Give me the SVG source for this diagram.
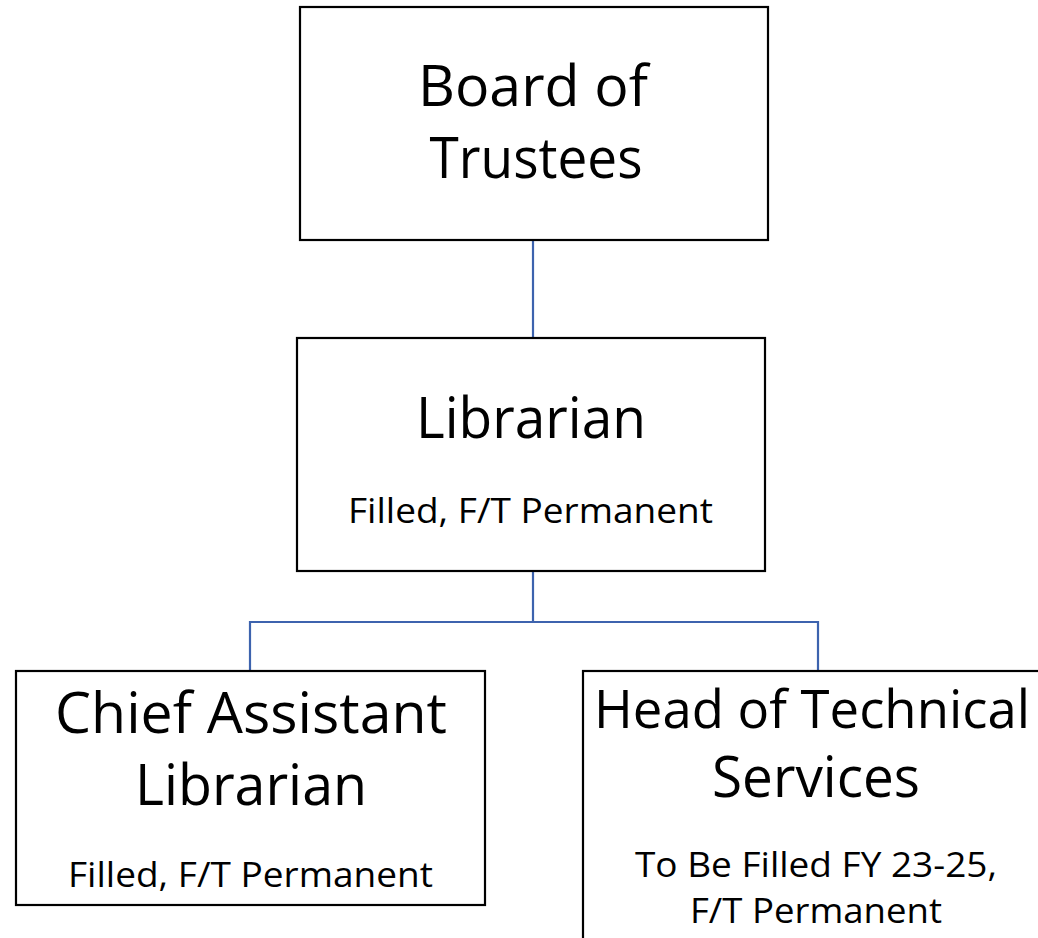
<svg xmlns="http://www.w3.org/2000/svg" width="1038" height="938" viewBox="0 0 1038 938">
<style>
.box{fill:#fff;stroke:#000;stroke-width:2.2}
.conn{fill:none;stroke:#3D63AE;stroke-width:2.2}
.big{font-family:"Open Sans","Noto Sans",sans-serif;font-size:56px;fill:#000;text-anchor:middle}
.small{font-family:"Open Sans","Noto Sans",sans-serif;font-size:34px;fill:#000;text-anchor:middle}
</style>
<rect width="1038" height="938" fill="#fff"/>
<g id="connectors">
<path class="conn" d="M533 240V338"/>
<path class="conn" d="M533 571V622H250V671"/>
<path class="conn" d="M533 622H818V671"/>
</g>
<g id="board">
<rect class="box" x="300" y="7" width="468" height="233"/>
<text class="big" x="533" y="106" textLength="230" lengthAdjust="spacingAndGlyphs">Board of</text>
<text class="big" x="536" y="178" textLength="213" lengthAdjust="spacingAndGlyphs">Trustees</text>
</g>
<g id="librarian">
<rect class="box" x="297" y="338" width="468" height="233"/>
<text class="big" x="531" y="438" textLength="230" lengthAdjust="spacingAndGlyphs">Librarian</text>
<text class="small" x="530.5" y="523" textLength="365" lengthAdjust="spacingAndGlyphs">Filled, F/T Permanent</text>
</g>
<g id="chief">
<rect class="box" x="16" y="671" width="469" height="234"/>
<text class="big" x="251" y="733" textLength="392" lengthAdjust="spacingAndGlyphs">Chief Assistant</text>
<text class="big" x="251" y="805" textLength="232" lengthAdjust="spacingAndGlyphs">Librarian</text>
<text class="small" x="250.5" y="887" textLength="365" lengthAdjust="spacingAndGlyphs">Filled, F/T Permanent</text>
</g>
<g id="head">
<rect class="box" x="583" y="671" width="469" height="290"/>
<text class="big" x="812" y="728" font-size="53" style="font-size:53px" textLength="436" lengthAdjust="spacingAndGlyphs">Head of Technical</text>
<text class="big" x="816" y="797" textLength="208" lengthAdjust="spacingAndGlyphs">Services</text>
<text class="small" x="816" y="877" textLength="362" lengthAdjust="spacingAndGlyphs">To Be Filled FY 23-25,</text>
<text class="small" x="816" y="923" textLength="252" lengthAdjust="spacingAndGlyphs">F/T Permanent</text>
</g>
</svg>
